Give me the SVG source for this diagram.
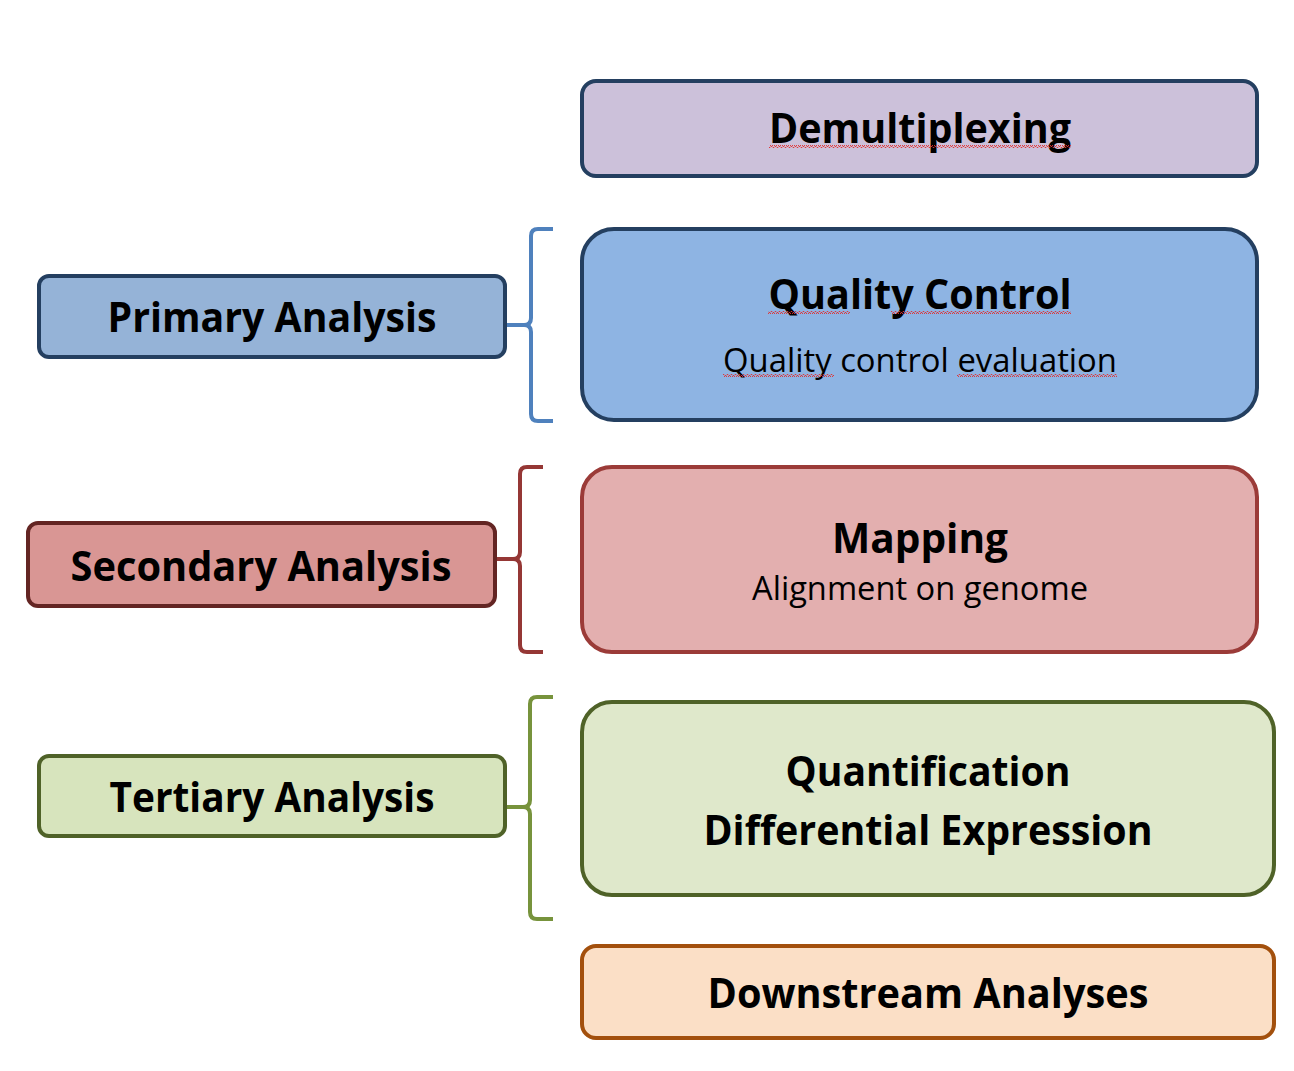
<svg xmlns="http://www.w3.org/2000/svg" width="1294" height="1071" viewBox="0 0 1294 1071">
<defs>
<pattern id="sq" x="0" y="0" width="4" height="3" patternUnits="userSpaceOnUse">
<path d="M0,2.5 L1,0.5 L2,0.5 L3,2.5 L4,2.5" fill="none" stroke="#e03030" stroke-width="0.9"/>
</pattern>
</defs>
<style>
.t{font-family:"Open Sans","Noto Sans","Liberation Sans",sans-serif;fill:#000;text-anchor:middle}
.b{font-weight:bold;font-size:41px}
.r{font-size:32px}
.box{stroke-width:4}
.br{fill:none;stroke-width:4;stroke-linejoin:round;stroke-linecap:butt}
.sq{fill:url(#sq)}
</style>
<rect width="1294" height="1071" fill="#fff"/>
<g id="connectors">
<path class="br" stroke="#4F81BD" d="M553,229 L538,229 Q531,229 531,236 L531,318 Q531,325 524,325 L505,325 M524,325 Q531,325 531,332 L531,414 Q531,421 538,421 L553,421"/>
<path class="br" stroke="#953735" d="M543,467 L527,467 Q520,467 520,474 L520,552 Q520,559 513,559 L495,559 M513,559 Q520,559 520,566 L520,645 Q520,652 527,652 L543,652"/>
<path class="br" stroke="#77933C" d="M553,697 L537,697 Q530,697 530,704 L530,800 Q530,807 523,807 L505,807 M523,807 Q530,807 530,814 L530,912 Q530,919 537,919 L553,919"/>
</g>
<g id="demultiplexing">
<rect class="box" x="582" y="81" width="675" height="95" rx="14" fill="#CCC1DA" stroke="#243F60"/>
<text class="t b" x="920" y="143" textLength="302" lengthAdjust="spacingAndGlyphs">Demultiplexing</text>
<rect class="sq" x="769" y="145" width="302" height="3"/>
</g>
<g id="quality-control">
<rect class="box" x="582" y="229" width="675" height="191" rx="32" fill="#8EB4E3" stroke="#243F60"/>
<text class="t b" x="920" y="309" textLength="303" lengthAdjust="spacingAndGlyphs">Quality Control</text>
<rect class="sq" x="768" y="311" width="82" height="3"/>
<rect class="sq" x="891" y="311" width="180" height="3"/>
<text class="t r" x="920" y="372" textLength="394" lengthAdjust="spacingAndGlyphs">Quality control evaluation</text>
<rect class="sq" x="723" y="374" width="111" height="3"/>
<rect class="sq" x="957" y="374" width="160" height="3"/>
</g>
<g id="mapping">
<rect class="box" x="582" y="467" width="675" height="185" rx="30" fill="#E3AFAF" stroke="#9B3B38"/>
<text class="t b" x="920" y="553" textLength="176" lengthAdjust="spacingAndGlyphs">Mapping</text>
<text class="t r" x="920" y="600" textLength="336" lengthAdjust="spacingAndGlyphs">Alignment on genome</text>
</g>
<g id="quantification">
<rect class="box" x="582" y="702" width="692" height="193" rx="30" fill="#DFE8CB" stroke="#4F6228"/>
<text class="t b" x="928" y="786" textLength="285" lengthAdjust="spacingAndGlyphs">Quantification</text>
<text class="t b" x="928" y="845" textLength="449" lengthAdjust="spacingAndGlyphs">Differential Expression</text>
</g>
<g id="downstream">
<rect class="box" x="582" y="946" width="692" height="92" rx="14" fill="#FBDFC6" stroke="#A3500D"/>
<text class="t b" x="928" y="1008" textLength="441" lengthAdjust="spacingAndGlyphs">Downstream Analyses</text>
</g>
<g id="primary">
<rect class="box" x="39" y="276" width="466" height="81" rx="10" fill="#95B3D7" stroke="#243F60"/>
<text class="t b" x="272" y="332" textLength="329" lengthAdjust="spacingAndGlyphs">Primary Analysis</text>
</g>
<g id="secondary">
<rect class="box" x="28" y="523" width="467" height="83" rx="10" fill="#D99694" stroke="#632523"/>
<text class="t b" x="261" y="581" textLength="381" lengthAdjust="spacingAndGlyphs">Secondary Analysis</text>
</g>
<g id="tertiary">
<rect class="box" x="39" y="756" width="466" height="80" rx="10" fill="#D7E4BD" stroke="#4F6228"/>
<text class="t b" x="272" y="812" textLength="325" lengthAdjust="spacingAndGlyphs">Tertiary Analysis</text>
</g>
</svg>
